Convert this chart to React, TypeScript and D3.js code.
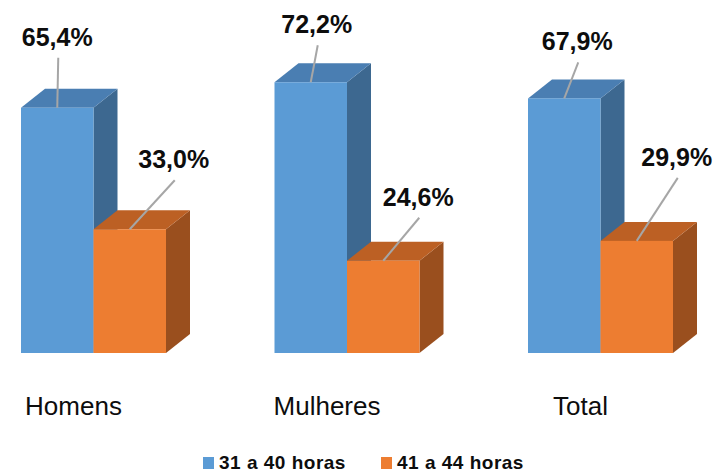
import React from "react";
import * as d3 from "d3";

// categories and series
const categories = ["Homens", "Mulheres", "Total"];
const seriesNames = ["31 a 40 horas", "41 a 44 horas"];
const horas31a40 = [65.4, 72.2, 67.9];
const horas41a44 = [33.0, 24.6, 29.9];

// manual placement of the data labels (label centre - bar centre, baseline - bar top)
const labelShift: [number, number][][] = [
    [[0, -62], [44, -61]],
    [[6, -49], [35, -55]],
    [[13, -48], [40, -75]],
];

const W = 721;
const H = 474;
const baseY = 353;
const depthX = 24;
const depthY = -19;

const colors = [
    { front: "#5B9BD5", top: "#4A7EB2", side: "#3D6890" },
    { front: "#ED7D31", top: "#BC6024", side: "#9A4F1E" },
];

const fmt = (v: number) => v.toFixed(1).replace(".", ",") + "%";

const App: React.FC = () => {
    const x0 = d3.scaleBand().domain(categories).range([21, 673]).paddingInner(0.428).paddingOuter(0);
    const x1 = d3.scaleBand().domain(seriesNames).range([0, x0.bandwidth()]).padding(0);
    const y = d3.scaleLinear().domain([0, 80]).range([baseY, baseY - 300]);

    const series = [horas31a40, horas41a44];

    const bars = categories.map((c, ci) =>
        series.map((vals, si) => {
            const xl = (x0(c) as number) + (x1(seriesNames[si]) as number);
            const w = x1.bandwidth();
            const yt = y(vals[ci]);
            return { ci, si, xl, w, yt, v: vals[ci] };
        })
    );

    const pts = (arr: [number, number][]) => arr.map((p) => p.join(",")).join(" ");

    return (
        <svg width={W} height={H} style={{ position: "absolute", left: 0, top: 0, background: "#fff" }}>
            <rect width={W} height={H} fill="#fff" />
            {bars.map((grp, gi) => (
                <g key={gi}>
                    {grp.map((b) => {
                        const c = colors[b.si];
                        const xr = b.xl + b.w;
                        return (
                            <g key={b.si}>
                                <polygon
                                    points={pts([
                                        [xr, b.yt],
                                        [xr + depthX, b.yt + depthY],
                                        [xr + depthX, baseY + depthY],
                                        [xr, baseY],
                                    ])}
                                    fill={c.side}
                                />
                                <polygon
                                    points={pts([
                                        [b.xl, b.yt],
                                        [b.xl + depthX, b.yt + depthY],
                                        [xr + depthX, b.yt + depthY],
                                        [xr, b.yt],
                                    ])}
                                    fill={c.top}
                                />
                                <rect x={b.xl} y={b.yt} width={b.w} height={baseY - b.yt} fill={c.front} />
                            </g>
                        );
                    })}
                </g>
            ))}
            {bars.flat().map((b) => {
                const cx = b.xl + b.w / 2;
                const [dx, dy] = labelShift[b.ci][b.si];
                const lx = cx + dx;
                const ly = b.yt + dy;
                return (
                    <g key={`l${b.ci}${b.si}`}>
                        <line x1={lx + 1} y1={ly + 12} x2={cx} y2={b.yt} stroke="#A6A6A6" strokeWidth={2} />
                        <text
                            x={lx}
                            y={ly}
                            textAnchor="middle"
                            fontFamily="Liberation Sans, Arial, sans-serif"
                            fontWeight="bold"
                            fontSize={25}
                            fill="#0D0D0D"
                        >
                            {fmt(b.v)}
                        </text>
                    </g>
                );
            })}
            {categories.map((c) => (
                <text
                    key={c}
                    x={(x0(c) as number) + x0.bandwidth() / 2 - 20}
                    y={415}
                    textAnchor="middle"
                    fontFamily="Liberation Sans, Arial, sans-serif"
                    fontSize={26}
                    fill="#0D0D0D"
                >
                    {c}
                </text>
            ))}
            {/* legend */}
            {seriesNames.map((s, i) => {
                const lx = i === 0 ? 203 : 381;
                return (
                    <g key={s}>
                        <rect x={lx} y={457} width={11} height={12} fill={colors[i].front} />
                        <text
                            x={lx + 16}
                            y={469}
                            fontFamily="Liberation Sans, Arial, sans-serif"
                            fontWeight="bold"
                            fontSize={19}
                            letterSpacing={0.5}
                            fill="#0D0D0D"
                        >
                            {s}
                        </text>
                    </g>
                );
            })}
        </svg>
    );
};

export default App;
